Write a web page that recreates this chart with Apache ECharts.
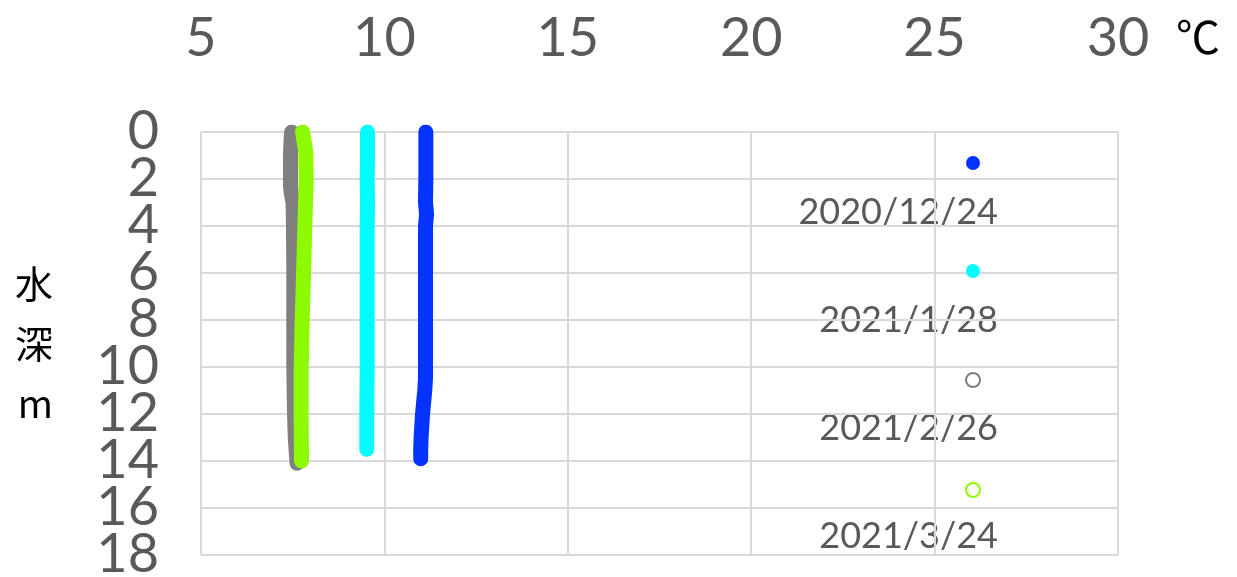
<!DOCTYPE html>
<html>
<head>
<meta charset="utf-8">
<script src="https://cdn.jsdelivr.net/npm/echarts@6/dist/echarts.min.js"></script>
<style>
  html, body { margin: 0; padding: 0; background: #fff; }
  #main { width: 1237px; height: 577px; }
</style>
</head>
<body>
<div id="main"></div>
<script>
// water temperature profiles (depth m -> temperature degC)
const seriesNames = ['2020/12/24', '2021/1/28', '2021/2/26', '2021/3/24'];
const seriesColors = ['#0433ff', '#00fdff', '#7f7f7f', '#8efa00'];

const depthDec = [0, 1, 2, 3, 3.5, 4, 6, 8, 10, 10.5, 11, 11.5, 12, 12.5, 13, 13.5, 13.9];
const tempDec = [11.13, 11.13, 11.13, 11.12, 11.15, 11.12, 11.12, 11.12, 11.12, 11.12, 11.10, 11.07, 11.04, 11.02, 11.00, 10.99, 10.99];

const depthJan = [0, 1, 2, 3, 4, 6, 8, 10, 12, 13, 13.5];
const tempJan = [9.54, 9.54, 9.53, 9.54, 9.53, 9.53, 9.53, 9.53, 9.52, 9.52, 9.52];

const depthFeb = [0, 0.5, 1, 2, 2.3, 2.6, 3, 4, 5.6, 8, 10, 12, 13, 13.7, 14.1];
const tempFeb = [7.47, 7.45, 7.44, 7.44, 7.44, 7.46, 7.51, 7.52, 7.53, 7.53, 7.53, 7.55, 7.57, 7.60, 7.62];

const depthMar = [0, 0.5, 0.9, 1.5, 2.1, 3, 4, 5.8, 8, 10.1, 12, 13.8, 14];
const tempMar = [7.77, 7.82, 7.86, 7.86, 7.87, 7.85, 7.83, 7.80, 7.76, 7.73, 7.73, 7.74, 7.74];

const xTicks = { min: 5, max: 30, step: 5 };
const yTicks = { min: 0, max: 18, step: 2 };

function pairs(temps, depths) {
  return temps.map((t, i) => [t, depths[i]]);
}

const profiles = [
  pairs(tempDec, depthDec),
  pairs(tempJan, depthJan),
  pairs(tempFeb, depthFeb),
  pairs(tempMar, depthMar)
];

const chart = echarts.init(document.getElementById('main'), null, { renderer: 'canvas' });

const grey = '#595959';
const gridColor = '#d9d9d9';
const numFont = 'Lato, "Noto Sans", sans-serif';

const legendTop = 163;
const legendStep = 108;

const yLabel = { color: grey, fontSize: 54, fontFamily: numFont, margin: 42 };

const option = {
  animation: false,
  backgroundColor: '#fff',
  grid: { left: 201, top: 132, right: 119, bottom: 22, containLabel: false, outerBoundsMode: 'none' },
  xAxis: {
    type: 'value',
    position: 'top',
    min: xTicks.min,
    max: xTicks.max,
    interval: xTicks.step,
    axisLine: { show: false },
    axisTick: { show: false },
    axisLabel: { color: grey, fontSize: 54, fontFamily: numFont, margin: 66, showMinLabel: true, showMaxLabel: true },
    splitLine: { show: true, lineStyle: { color: gridColor, width: 2 } }
  },
  yAxis: [{
    // inner tick labels (2 .. 16) and grid lines
    type: 'value',
    inverse: true,
    min: yTicks.min,
    max: yTicks.max,
    interval: yTicks.step,
    axisLine: { show: false },
    axisTick: { show: false },
    axisLabel: Object.assign({ showMinLabel: false, showMaxLabel: false }, yLabel),
    splitLine: { show: true, lineStyle: { color: gridColor, width: 2 } },
    name: '水\n深\nm',
    nameLocation: 'middle',
    nameRotate: 0,
    nameGap: 148,
    nameTextStyle: {
      color: '#000',
      fontSize: 38,
      lineHeight: 60,
      fontFamily: '"Noto Sans CJK JP", sans-serif',
      padding: [42, 0, 0, 0]
    }
  }, {
    // end labels 0 and 18 (kept apart so they are not dropped for overlap)
    type: 'value',
    position: 'left',
    inverse: true,
    min: yTicks.min,
    max: yTicks.max,
    interval: yTicks.max - yTicks.min,
    axisLine: { show: false },
    axisTick: { show: false },
    axisLabel: Object.assign({ showMinLabel: true, showMaxLabel: true }, yLabel),
    splitLine: { show: false }
  }],
  legend: {
    orient: 'vertical',
    left: 960,
    top: legendTop - 12,
    itemWidth: 14,
    itemHeight: 14,
    itemGap: legendStep - 14,
    icon: 'circle',
    formatter: () => '',
    textStyle: { fontSize: 1 },
    selectedMode: false,
    data: [
      { name: seriesNames[0], itemStyle: { color: seriesColors[0] } },
      { name: seriesNames[1], itemStyle: { color: seriesColors[1] } },
      { name: seriesNames[2], itemStyle: { color: '#fff', borderColor: seriesColors[2], borderWidth: 2 } },
      { name: seriesNames[3], itemStyle: { color: '#fff', borderColor: seriesColors[3], borderWidth: 2 } }
    ]
  },
  graphic: seriesNames.map((n, i) => ({
    type: 'text',
    right: 1237 - 998,
    top: legendTop + 31 + i * legendStep,
    style: { text: n, fill: grey, font: '36px ' + numFont }
  })).concat([{
    type: 'text',
    left: 1176,
    top: 15,
    style: { text: '℃', fill: '#000', font: '44px "Noto Sans CJK JP"' }
  }]),
  series: profiles.map((d, i) => ({
    name: seriesNames[i],
    type: 'line',
    yAxisIndex: 0,
    data: d,
    showSymbol: false,
    symbol: 'none',
    color: seriesColors[i],
    lineStyle: { width: 15, color: seriesColors[i], cap: 'round', join: 'round' }
  }))
};

chart.setOption(option);
</script>
</body>
</html>
